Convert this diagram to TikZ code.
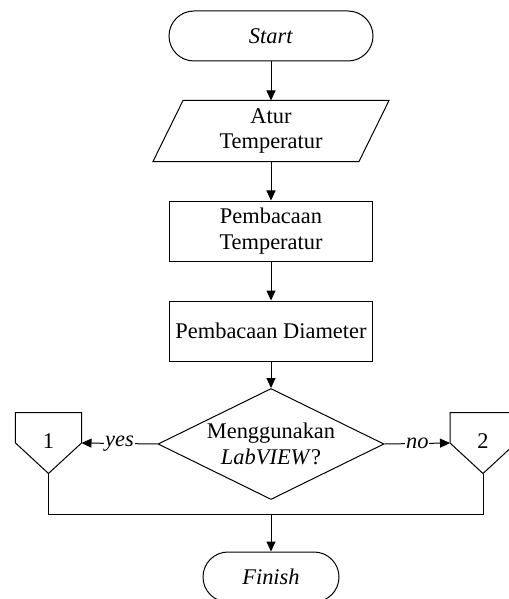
\documentclass[tikz,border=0pt]{standalone}
\usepackage{fontspec}
\setmainfont{Liberation Serif}
\usetikzlibrary{arrows.meta,shapes.geometric}
\begin{document}
\begin{tikzpicture}[x=1bp,y=-1bp, line width=1bp,
  font=\fontsize{22.5}{26}\selectfont,
  term/.style={draw, rounded corners=25bp, minimum height=50bp, inner sep=0pt},
  proc/.style={draw, minimum width=203bp, minimum height=60bp, align=center, inner sep=0pt},
  ghost/.style={minimum width=205bp, minimum height=60bp, align=center, inner sep=0pt},
  dec/.style={draw, diamond, aspect=2.04, minimum width=226bp, minimum height=111bp, inner sep=0pt, align=center},
  conn/.style={minimum width=65bp, minimum height=60bp, inner sep=0pt},
  arr/.style={-{Triangle[length=10bp,width=9bp]}},
  lab/.style={fill=white, inner sep=1bp, font=\fontsize{22.5}{26}\selectfont\itshape}]
\useasboundingbox (0,0) rectangle (509,599);
\node[term, minimum width=204bp] (start) at (271,36) {\textit{Start}};
\node[ghost] (in) at (271,131) {Atur\\Temperatur};
\draw ([xshift=15bp]in.north west) -- ([xshift=15bp]in.north east) -- ([xshift=-15bp]in.south east) -- ([xshift=-15bp]in.south west) -- cycle;
\node[proc] (p1) at (271,231) {Pembacaan\\Temperatur};
\node[proc] (p2) at (271,331) {Pembacaan Diameter};
\node[dec] (d) at (271,444) {Menggunakan\\\textit{LabVIEW}?};
\node[conn] (c1) at (48.5,443) {\raisebox{4bp}{1}};
\draw (c1.north west) -- (c1.north east) -- (c1.east) -- (c1.south) -- (c1.west) -- cycle;
\node[conn] (c2) at (483,443) {\raisebox{4bp}{2}};
\draw (c2.north west) -- (c2.north east) -- (c2.east) -- (c2.south) -- (c2.west) -- cycle;
\coordinate (j) at (271,514);
\node[term, minimum width=136bp] (fin) at (271,577) {\textit{Finish}};
\draw[arr] (start) -- (in);
\draw[arr] (in) -- (p1);
\draw[arr] (p1) -- (p2);
\draw[arr] (p2) -- (d);
\draw[arr] (d.west) -- node[lab]{yes} (c1.east);
\draw[arr] (d.east) -- node[lab]{no} (c2.west);
\draw (c1.south) -- (c1.south |- j) -- (c2.south |- j) -- (c2.south);
\draw[arr] (j) -- (fin);
\end{tikzpicture}
\end{document}
